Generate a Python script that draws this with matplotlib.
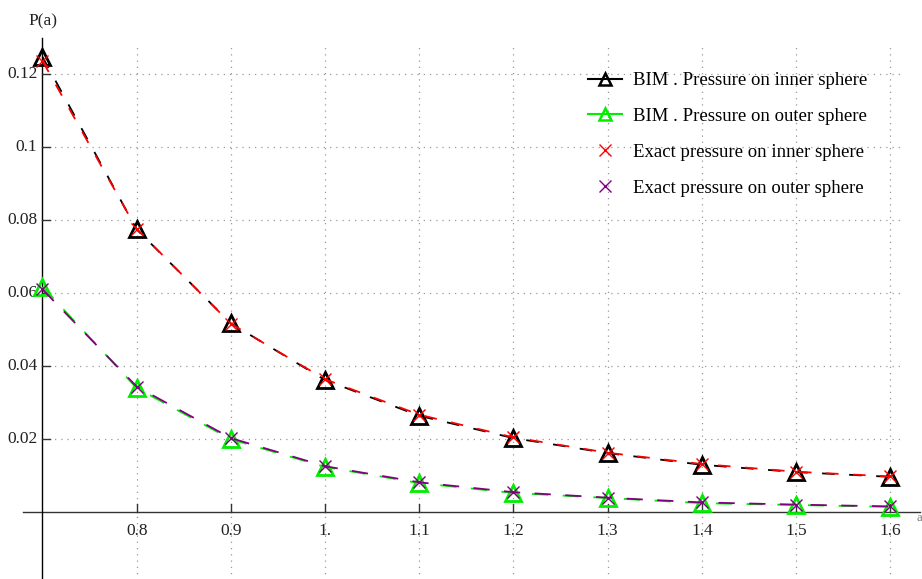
import matplotlib.pyplot as plt
from matplotlib.lines import Line2D

a_vals = [0.7, 0.8, 0.9, 1.0, 1.1, 1.2, 1.3, 1.4, 1.5, 1.6]
bim_inner = [0.1246, 0.0774, 0.0517, 0.0362, 0.0264, 0.0203, 0.0162, 0.0130, 0.0110, 0.0097]
bim_outer = [0.0617, 0.0340, 0.0200, 0.0124, 0.0080, 0.0053, 0.0039, 0.0025, 0.0020, 0.0015]
exact_inner = [0.1235, 0.0775, 0.0516, 0.0364, 0.0267, 0.0205, 0.0163, 0.0132, 0.0111, 0.0098]
exact_outer = [0.0610, 0.0344, 0.0203, 0.0126, 0.0082, 0.0055, 0.0040, 0.0027, 0.0021, 0.0016]

x_ticks = [0.8, 0.9, 1.0, 1.1, 1.2, 1.3, 1.4, 1.5, 1.6]
x_labels = ['0.8', '0.9', '1.', '1.1', '1.2', '1.3', '1.4', '1.5', '1.6']
y_ticks = [0.02, 0.04, 0.06, 0.08, 0.1, 0.12]
y_labels = ['0.02', '0.04', '0.06', '0.08', '0.1', '0.12']

legend_labels = ['BIM . Pressure on inner sphere', 'BIM . Pressure on outer sphere',
                 'Exact pressure on inner sphere', 'Exact pressure on outer sphere']

plt.rcParams['font.family'] = ['Liberation Serif', 'DejaVu Serif']

fig = plt.figure(figsize=(9.22, 5.79), dpi=100)
ax = fig.add_axes([0, 0, 1, 1])
ax.set_xlim(0.6549, 1.6337)
ax.set_ylim(-0.01825, 0.14017)
ax.patch.set_alpha(0)
for s in ax.spines.values():
    s.set_visible(False)
ax.set_xticks([])
ax.set_yticks([])

# grid
ax.hlines(y_ticks, 0.7, 1.6124, colors='#999999', linestyles=(0, (1, 4)), linewidth=0.9, zorder=1)
ax.vlines(x_ticks, -0.02, 0.1284, colors='#999999', linestyles=(0, (1, 4)), linewidth=0.9, zorder=1)

# axes lines
ax.plot([0.679, 1.6315], [0, 0], color='#333333', lw=1.0, zorder=2)
ax.plot([0.7, 0.7], [-0.02, 0.1298], color='black', lw=1.0, zorder=2)

# ticks and tick labels
for x, lab in zip(x_ticks, x_labels):
    ax.plot([x, x], [0, 0.0024], color='#333333', lw=1.0, zorder=2)
    ax.text(x, -0.0030, lab, ha='center', va='top', fontsize=12.5, color='#222222')
for y, lab in zip(y_ticks, y_labels):
    ax.plot([0.7, 0.7085], [y, y], color='#333333', lw=1.0, zorder=2)
    ax.text(0.6945, y, lab, ha='right', va='center', fontsize=12.5, color='#222222')

ax.text(0.7, 0.1322, 'P(a)', ha='center', va='bottom', fontsize=12.5, color='#222222')
ax.text(1.6335, 0.0, 'a', ha='right', va='top', fontsize=9, color='#777777')

# data
ax.plot(a_vals, bim_inner, color='black', lw=1.3, dashes=(7, 8), marker='^', ms=12,
        mfc='none', mec='black', mew=2.0, zorder=3)
ax.plot(a_vals, bim_outer, color='#00ee00', lw=1.3, dashes=(9, 8), marker='^', ms=12,
        mfc='none', mec='#00ee00', mew=2.0, zorder=3)
ax.plot(a_vals, exact_inner, color='red', lw=1.3, dashes=(7, 8),
        marker='x', ms=9, mew=1.0, zorder=4)
ax.plot(a_vals, exact_outer, color='purple', lw=1.3, dashes=(9, 8),
        marker='x', ms=9, mew=1.0, zorder=4)

handles = [
    Line2D([], [], color='black', lw=1.5, marker='^', ms=8, mfc='none', mew=1.8),
    Line2D([], [], color='#00ee00', lw=1.5, marker='^', ms=8, mfc='none', mew=1.8),
    Line2D([], [], color='red', lw=0, marker='x', ms=9, mew=1.0),
    Line2D([], [], color='purple', lw=0, marker='x', ms=9, mew=1.0),
]
ax.legend(handles, legend_labels, loc='upper left', bbox_to_anchor=(588 / 922, 1 - 72 / 579),
          frameon=False, fontsize=13.5, handlelength=1.8, handletextpad=0.6,
          labelspacing=1.0, borderpad=0, borderaxespad=0)

fig.savefig('out.png', dpi=100)
